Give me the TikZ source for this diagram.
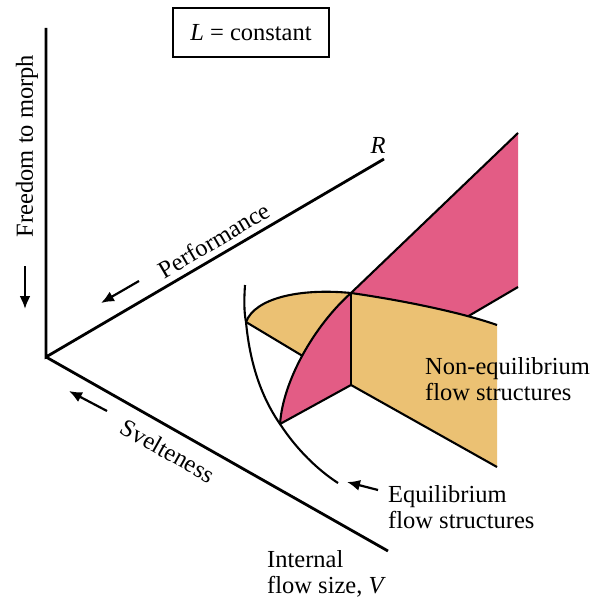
\documentclass[tikz,border=0pt]{standalone}
\usepackage{fontspec}
\setmainfont{Liberation Serif}
\usetikzlibrary{arrows.meta}
\definecolor{pinkc}{HTML}{E35C85}
\definecolor{yelc}{HTML}{EBC173}
\begin{document}
\begin{tikzpicture}[x=1pt,y=-1pt,
  axis/.style={line width=2.8pt},
  edge/.style={line width=2.1pt, line join=round},
  lbl/.style={font=\fontsize{24.5}{26}\selectfont, inner sep=0pt},
  arr/.style={line width=2.2pt, -{Latex[length=13pt,width=11pt]}}]
\useasboundingbox (0,0) rectangle (600,601);
% axes
\coordinate (O) at (46,357);
\coordinate (Ztop) at (46,28);
\coordinate (Rend) at (384,159);
\coordinate (Vend) at (388,551);
\draw[axis] (Ztop) -- (O) -- (Rend);
\draw[axis] (O) -- (Vend);
% key points of the surfaces
\coordinate (A) at (246,322);
\coordinate (B) at (280,424);
\coordinate (C) at (351,293);
\coordinate (D) at (351,385);
\coordinate (P1) at (518,133);
\coordinate (P2) at (518,287);
\coordinate (Y1) at (497,325);
\coordinate (Y2) at (497,467);
\coordinate (S) at (245,285);
\coordinate (E) at (338,483);
% pink right panel
\fill[pinkc] (C) -- (P1) -- (P2) -- (D) -- cycle;
\draw[edge] (C) -- (P1);
\draw[edge] (P2) -- (D);
% yellow right panel
\fill[yelc] (C) .. controls (400,300) and (460,312) .. (Y1) -- (Y2) -- (D) -- cycle;
\draw[edge] (C) .. controls (400,300) and (460,312) .. (Y1);
\draw[edge] (D) -- (Y2);
% yellow left lobe
\fill[yelc] (A) .. controls (255,298) and (300,288) .. (C) -- (D) -- cycle;
\draw[edge] (A) .. controls (255,298) and (300,288) .. (C);
\draw[edge] (A) -- (D);
% pink left part
\fill[pinkc] (B) .. controls (283,380) and (315,325) .. (C) -- (D) -- cycle;
\draw[edge] (B) .. controls (283,380) and (315,325) .. (C);
\draw[edge] (B) -- (D);
\draw[edge] (C) -- (D);
% equilibrium arc
\draw[edge] (S) .. controls (244,300) and (244,312) .. (A)
  .. controls (250,365) and (262,398) .. (B)
  .. controls (297,450) and (318,470) .. (E);
% labels
\node[lbl, draw, line width=1.4pt, minimum width=156pt, minimum height=49pt] (box) at (251,32.5) {\textit{L} = constant};
\node[lbl, rotate=90] (fm) at (27,146) {Freedom to morph};
\coordinate (fa1) at (25,266);
\coordinate (fa2) at (25,309);
\draw[arr] (fa1) -- (fa2);
\node[lbl, rotate=30.4] (perf) at (214,240) {Performance};
\coordinate (pa1) at (139,281);
\coordinate (pa2) at (101,303);
\draw[arr] (pa1) -- (pa2);
\node[lbl] (R) at (378,145) {\textit{R}};
\node[lbl, rotate=-29.4] (svelte) at (168,451) {Svelteness};
\coordinate (sa1) at (107,411);
\coordinate (sa2) at (69,391);
\draw[arr] (sa1) -- (sa2);
\node[lbl, align=left, anchor=base west] (ifs) at (267,593) {Internal\\flow size, \textit{V}};
\node[lbl, align=left, anchor=base west] (neq) at (425,400) {Non-equilibrium\\flow structures};
\node[lbl, align=left, anchor=base west] (eq) at (388,528) {Equilibrium\\flow structures};
\coordinate (ea1) at (378,490);
\coordinate (ea2) at (347,482);
\draw[arr] (ea1) -- (ea2);
\end{tikzpicture}
\end{document}
